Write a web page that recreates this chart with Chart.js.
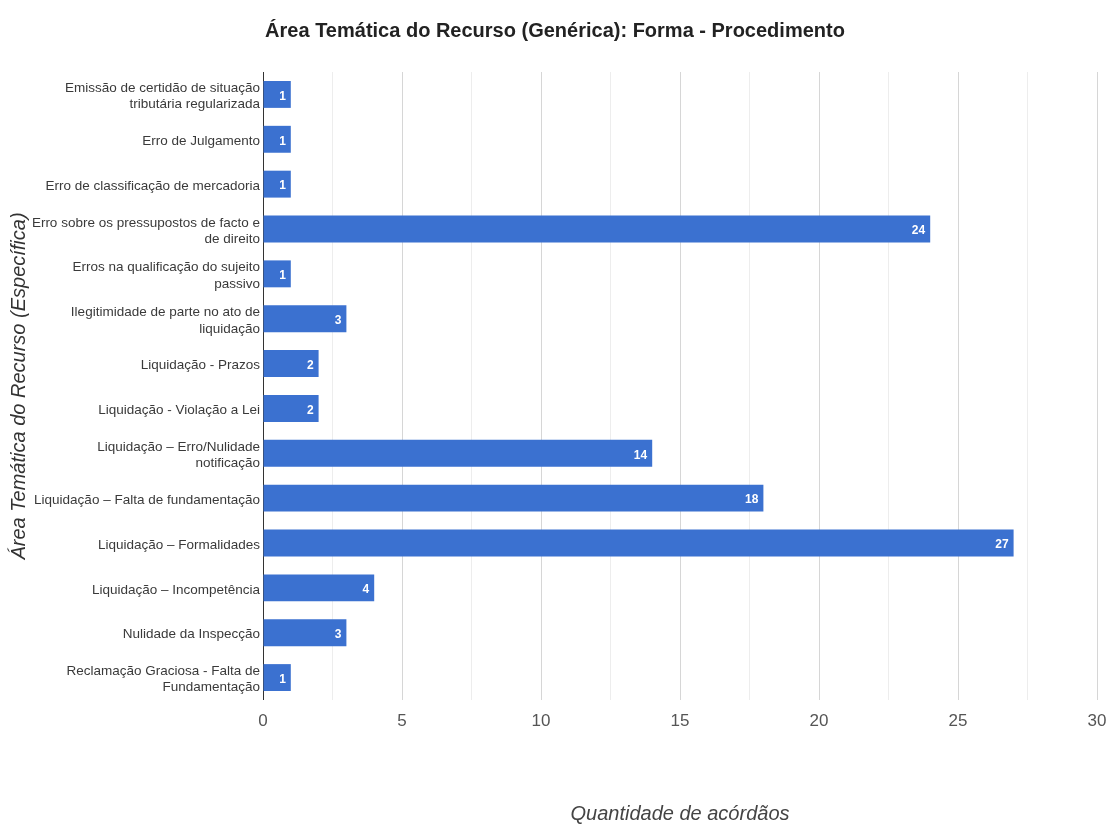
<!DOCTYPE html>
<html lang="pt">
<head>
<meta charset="utf-8">
<title>Área Temática do Recurso (Genérica): Forma - Procedimento</title>
<script src="https://cdn.jsdelivr.net/npm/chart.js@4/dist/chart.umd.min.js"></script>
<style>
  html, body { margin: 0; padding: 0; background: #ffffff; }
  #wrap { width: 1110px; height: 824px; }
</style>
</head>
<body>
<div id="wrap"><canvas id="chart" width="1110" height="824"></canvas></div>
<script>
// Sub-themes (categories), each split into the lines it is printed on
const categories = [
  ["Emissão de certidão de situação", "tributária regularizada"],
  "Erro de Julgamento",
  "Erro de classificação de mercadoria",
  ["Erro sobre os pressupostos de facto e", "de direito"],
  ["Erros na qualificação do sujeito", "passivo"],
  ["Ilegitimidade de parte no ato de", "liquidação"],
  "Liquidação - Prazos",
  "Liquidação - Violação a Lei",
  ["Liquidação – Erro/Nulidade", "notificação"],
  "Liquidação – Falta de fundamentação",
  "Liquidação – Formalidades",
  "Liquidação – Incompetência",
  "Nulidade da Inspecção",
  ["Reclamação Graciosa - Falta de", "Fundamentação"]
];

// Number of rulings per sub-theme
const quantities = [1, 1, 1, 24, 1, 3, 2, 2, 14, 18, 27, 4, 3, 1];

// Labelled value-axis ticks
const xTickLabels = [0, 5, 10, 15, 20, 25, 30];

const FONT = "'Liberation Sans', Arial, sans-serif";

// Writes each bar's value in white just inside its right end
const barValueLabels = {
  id: 'barValueLabels',
  afterDatasetsDraw(chart) {
    const ctx = chart.ctx;
    const meta = chart.getDatasetMeta(0);
    ctx.save();
    ctx.font = "bold 12px " + FONT;
    ctx.fillStyle = '#ffffff';
    ctx.textAlign = 'right';
    ctx.textBaseline = 'middle';
    meta.data.forEach((bar, i) => {
      ctx.fillText(String(quantities[i]), bar.x - 5, bar.y + 2);
    });
    ctx.restore();
  }
};

new Chart(document.getElementById('chart'), {
  type: 'bar',
  data: {
    labels: categories,
    datasets: [{
      data: quantities,
      backgroundColor: '#3b71d0',
      borderWidth: 0,
      barPercentage: 0.6,
      categoryPercentage: 1.0
    }]
  },
  options: {
    indexAxis: 'y',
    responsive: false,
    animation: false,
    devicePixelRatio: 1,
    layout: { padding: { left: 0, right: 0, top: 0, bottom: 0 } },
    plugins: {
      legend: { display: false },
      tooltip: { enabled: false },
      title: {
        display: true,
        text: 'Área Temática do Recurso (Genérica): Forma - Procedimento',
        color: '#222222',
        font: { family: FONT, size: 20, weight: 'bold', lineHeight: 1.2 },
        padding: { top: 19, bottom: 29 }
      }
    },
    scales: {
      x: {
        min: 0,
        max: 30,
        afterBuildTicks(scale) {
          const ticks = [];
          for (let v = 0; v <= 30; v += 2.5) ticks.push({ value: v });
          scale.ticks = ticks;
        },
        afterFit(scale) {
          scale.height = 124;
          scale.paddingLeft = 0;
          scale.paddingRight = 13;
        },
        border: { display: false },
        grid: {
          drawTicks: false,
          lineWidth: 1,
          color(ctx) {
            const v = ctx.tick ? ctx.tick.value : 0;
            if (v === 0) return '#333333';
            return xTickLabels.includes(v) ? '#d6d6d6' : '#ededed';
          }
        },
        ticks: {
          padding: 11,
          color: '#555555',
          font: { family: FONT, size: 17 },
          maxRotation: 0,
          autoSkip: false,
          callback(value) {
            return xTickLabels.includes(value) ? String(value) : '';
          }
        },
        title: {
          display: true,
          text: 'Quantidade de acórdãos',
          color: '#444444',
          font: { family: FONT, size: 20, style: 'italic', lineHeight: 1.2 },
          padding: { top: 0, bottom: -2 }
        }
      },
      y: {
        afterFit(scale) { scale.width = 263; },
        border: { display: false },
        grid: { display: false, drawTicks: false },
        ticks: {
          padding: 3,
          labelOffset: 2,
          color: '#3a3a3a',
          autoSkip: false,
          font: { family: FONT, size: 13.5, lineHeight: 1.2 }
        },
        title: {
          display: true,
          text: 'Área Temática do Recurso (Específica)',
          color: '#333333',
          font: { family: FONT, size: 20, style: 'italic', lineHeight: 1.2 },
          padding: { top: 7, bottom: 0 }
        }
      }
    }
  },
  plugins: [barValueLabels]
});
</script>
</body>
</html>
